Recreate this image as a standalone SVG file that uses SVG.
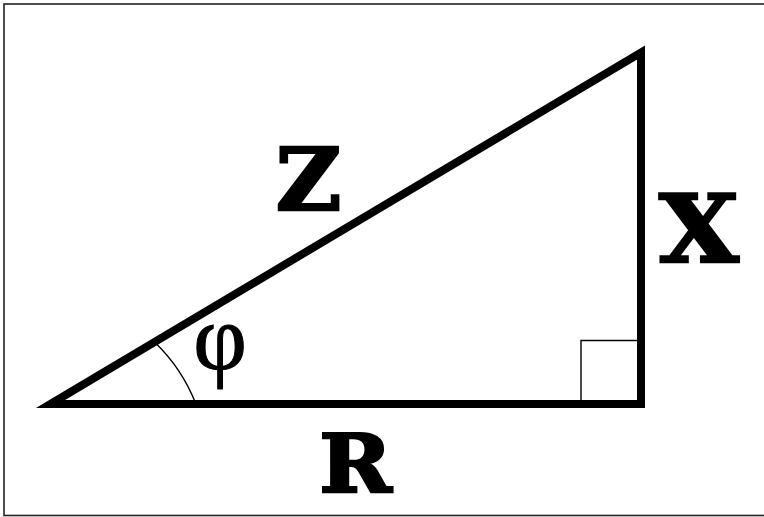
<svg xmlns="http://www.w3.org/2000/svg" width="764" height="517" viewBox="0 0 764 517">
<style>
.lbl{font-family:"DejaVu Serif","Liberation Serif",serif;font-weight:bold;fill:#000;stroke:#000;stroke-width:2.5;stroke-linejoin:miter;text-anchor:middle}
.thin{fill:none;stroke:#000;stroke-width:1.4}
</style>
<rect x="0" y="0" width="764" height="517" fill="#fff"/>
<rect x="4" y="4" width="775" height="511.5" fill="none" stroke="#222" stroke-width="1.6"/>
<g id="angle-arc">
<path class="thin" d="M154.5,342 A173.4,173.4 0 0,1 195.9,404"/>
</g>
<g id="right-angle">
<path class="thin" d="M581,404 V340.5 H641" stroke="#333"/>
</g>
<g id="triangle">
<path d="M50.5,404 L641,52.5 L641,404 Z" fill="none" stroke="#000" stroke-width="8" stroke-linejoin="miter" stroke-miterlimit="10"/>
</g>
<g id="label-Z"><text class="lbl" transform="translate(308.5,0) scale(1.045,1)" x="0" y="210.5" font-size="86">Z</text></g>
<g id="label-X"><text class="lbl" transform="translate(699,0) scale(1.1,1)" x="0" y="262.3" font-size="93.5">X</text></g>
<g id="label-R"><text class="lbl" transform="translate(355.5,0) scale(1.09,1)" x="0" y="492.3" font-size="80">R</text></g>
<g id="label-phi"><text x="220" y="368.5" font-size="93" text-anchor="middle" stroke="#000" stroke-width="1" font-family="'Liberation Serif','DejaVu Serif',serif">φ</text></g>
</svg>
